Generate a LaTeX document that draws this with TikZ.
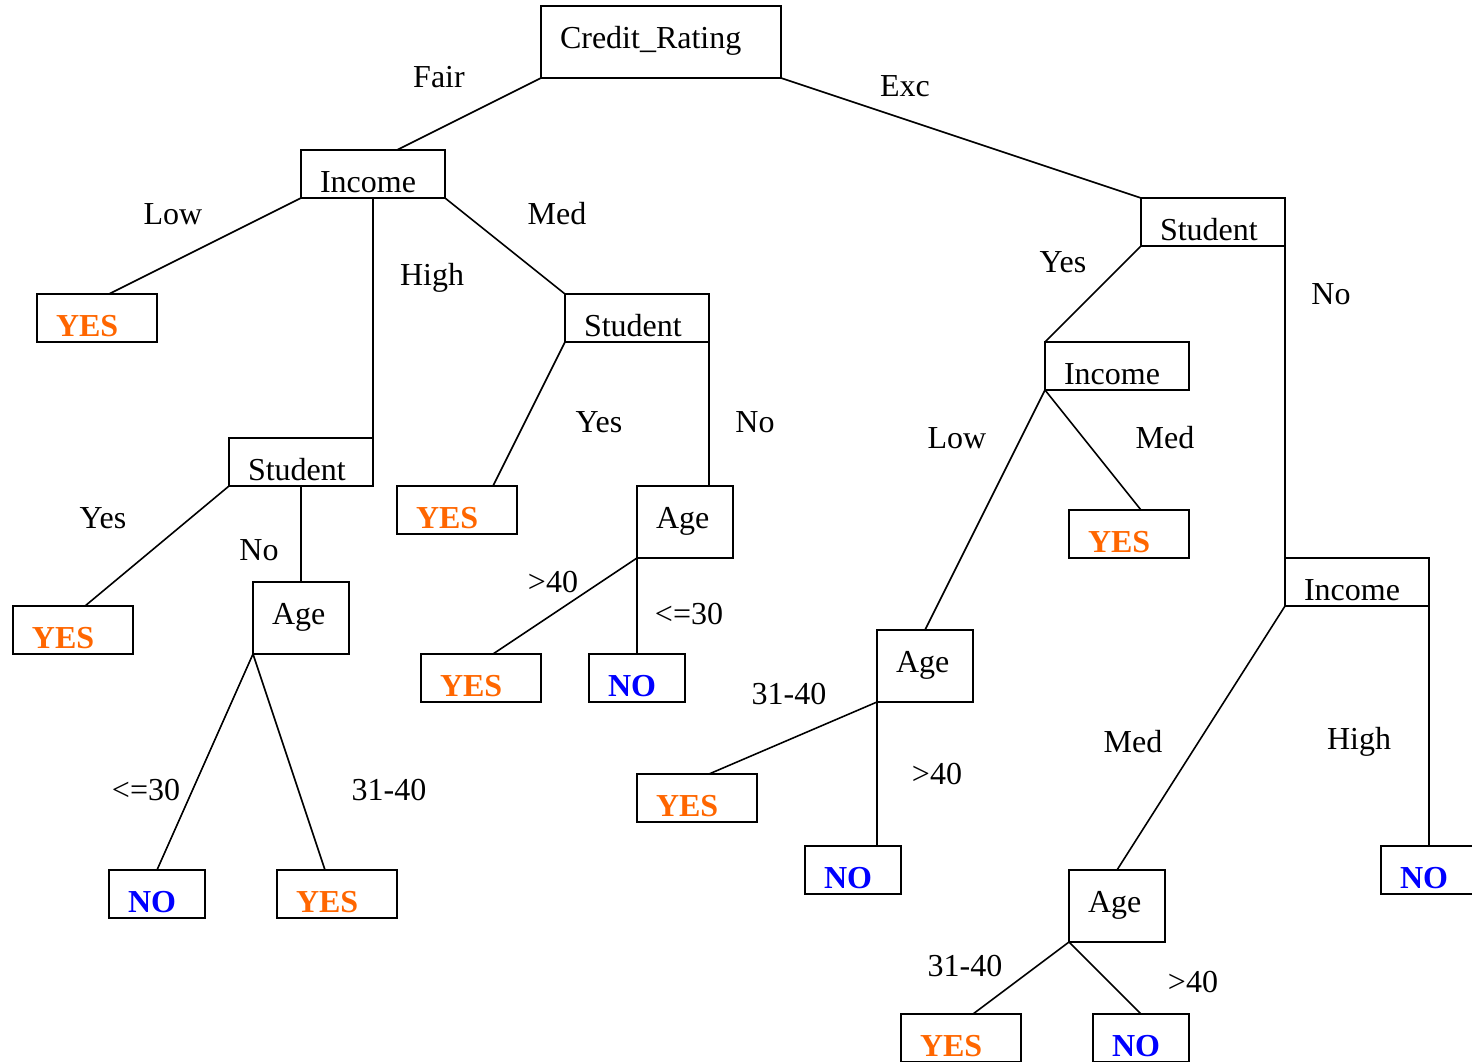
\documentclass[tikz,border=0pt]{standalone}
\usepackage{fontspec}
\setmainfont{Liberation Serif}
\definecolor{yescol}{HTML}{FF6600}
\definecolor{nocol}{HTML}{0000FF}
\tikzset{
  box/.style={draw, line width=1pt, anchor=north west, outer sep=0pt, inner xsep=9.5pt, inner ysep=0pt,
    align=left, text height=21pt, text depth=3pt, font=\fontsize{16pt}{19pt}\selectfont},
  tallbox/.style={box, text depth=15pt},
  mbox/.style={box, text width=53pt},
  sbox/.style={box, text width=41pt},
  nbox/.style={tallbox, text width=29pt},
  yesbox/.style={sbox, text=yescol, font=\fontsize{16pt}{19pt}\selectfont\bfseries},
  nobox/.style={box, text width=29pt, text=nocol, font=\fontsize{16pt}{19pt}\selectfont\bfseries},
  edge/.style={line width=0.8pt},
  lab/.style={inner sep=0pt, font=\fontsize{16pt}{19pt}\selectfont}
}
\begin{document}
\begin{tikzpicture}[x=0.5pt, y=-0.5pt]
\clip (0,0) rectangle (1472,1061);

% Root and left subtree
\node[tallbox, text width=101pt] (cr) at (541,6) {Credit\_Rating};
\node[mbox] (inc) at (301,150) {Income};
\node[yesbox] (yesA) at (37,294) {YES};
\node[mbox] (stuA) at (565,294) {Student};
\node[mbox] (stuB) at (229,438) {Student};
\node[yesbox] (yesB) at (397,486) {YES};
\node[nbox] (ageA) at (637,486) {Age};
\node[yesbox] (yesC) at (13,606) {YES};
\node[nbox] (ageB) at (253,582) {Age};
\node[yesbox] (yesD) at (421,654) {YES};
\node[nobox] (noA) at (589,654) {NO};
\node[nobox] (noB) at (109,870) {NO};
\node[yesbox] (yesE) at (277,870) {YES};

% Right subtree
\node[mbox] (stuR) at (1141,198) {Student};
\node[mbox] (incR) at (1045,342) {Income};
\node[yesbox] (yesF) at (1069,510) {YES};
\node[nbox] (ageR) at (877,630) {Age};
\node[yesbox] (yesG) at (637,774) {YES};
\node[nobox] (noC) at (805,846) {NO};
\node[mbox] (incS) at (1285,558) {Income};
\node[nobox] (noD) at (1381,846) {NO};
\node[nbox] (ageS) at (1069,870) {Age};
\node[yesbox] (yesH) at (901,1014) {YES};
\node[nobox] (noE) at (1093,1014) {NO};

% Branches
\draw[edge] (cr.south west) -- ([xshift=48pt]inc.north west);
\draw[edge] (cr.south east) -- (stuR.north west);
\draw[edge] (inc.south west) -- ([xshift=36pt]yesA.north west);
\draw[edge] (inc.south) -- (stuB.north east);
\draw[edge] (inc.south east) -- (stuA.north west);
\draw[edge] (stuA.south west) -- ([xshift=48pt]yesB.north west);
\draw[edge] (stuA.south east) -- ([xshift=36pt]ageA.north west);
\draw[edge] (stuB.south west) -- ([xshift=36pt]yesC.north west);
\draw[edge] (stuB.south) -- (ageB.north);
\draw[edge] (ageB.south west) -- (noB.north);
\draw[edge] (ageB.south west) -- ([xshift=24pt]yesE.north west);
\draw[edge] (ageA.south west) -- ([xshift=36pt]yesD.north west);
\draw[edge] (ageA.south west) -- (noA.north);
\draw[edge] (stuR.south west) -- (incR.north west);
\draw[edge] (stuR.south east) -- (incS.north west);
\draw[edge] (incR.south west) -- (ageR.north);
\draw[edge] (incR.south west) -- ([xshift=36pt]yesF.north west);
\draw[edge] (ageR.south west) -- ([xshift=36pt]yesG.north west);
\draw[edge] (ageR.south west) -- ([xshift=36pt]noC.north west);
\draw[edge] (incS.south west) -- (ageS.north);
\draw[edge] (incS.south east) -- (noD.north);
\draw[edge] (ageS.south west) -- ([xshift=36pt]yesH.north west);
\draw[edge] (ageS.south west) -- (noE.north);

% Branch labels
\node[lab] (lFair) at (439,77) {Fair};
\node[lab] (lExc) at (905,86) {Exc};
\node[lab] (lLow) at (173,214) {Low};
\node[lab] (lHigh) at (432,278) {High};
\node[lab] (lMed) at (557,214) {Med};
\node[lab] (lYesA) at (599,422) {Yes};
\node[lab] (lNoA) at (755,422) {No};
\node[lab] (lYesB) at (103,518) {Yes};
\node[lab] (lNoB) at (259,550) {No};
\node[lab] (lLeB) at (146,790) {<=30};
\node[lab] (lMiB) at (389,790) {31-40};
\node[lab] (lGtA) at (553,582) {>40};
\node[lab] (lLeA) at (689,614) {<=30};
\node[lab] (lYesR) at (1063,262) {Yes};
\node[lab] (lNoR) at (1331,294) {No};
\node[lab] (lLowR) at (957,438) {Low};
\node[lab] (lMedR) at (1165,438) {Med};
\node[lab] (lMiR) at (789,694) {31-40};
\node[lab] (lGtR) at (937,774) {>40};
\node[lab] (lMedS) at (1133,742) {Med};
\node[lab] (lHighS) at (1359,742) {High};
\node[lab] (lMiS) at (965,966) {31-40};
\node[lab] (lGtS) at (1193,982) {>40};
\end{tikzpicture}
\end{document}
